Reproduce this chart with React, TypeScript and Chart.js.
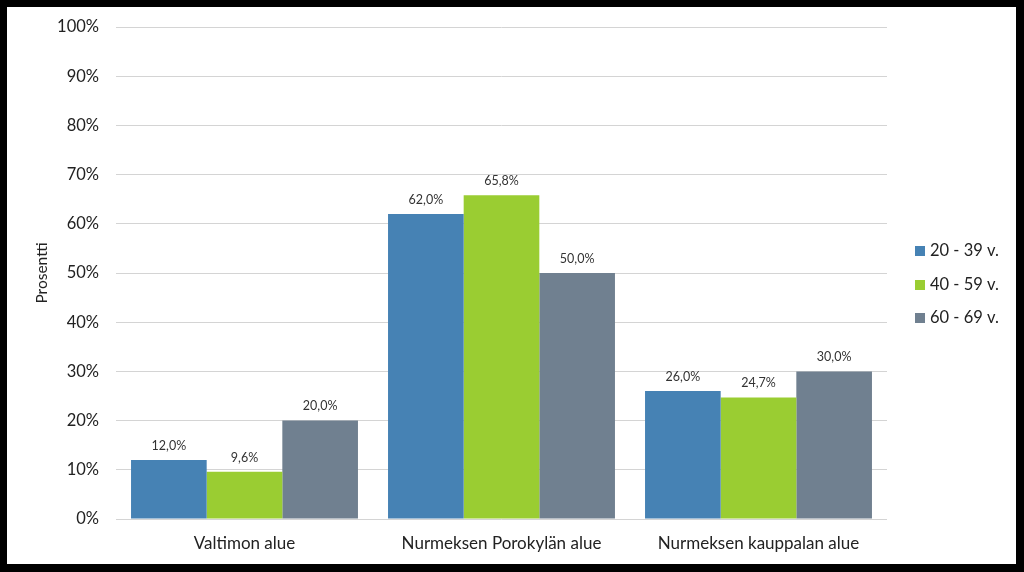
import React, { useEffect, useRef } from "react";
import { Chart, registerables } from "chart.js";

Chart.register(...registerables);

const categories = ["Valtimon alue", "Nurmeksen Porokylän alue", "Nurmeksen kauppalan alue"];
const seriesNames = ["20 - 39 v.", "40 - 59 v.", "60 - 69 v."];
const values2039 = [12.0, 62.0, 26.0];
const values4059 = [9.6, 65.8, 24.7];
const values6069 = [20.0, 50.0, 30.0];
const seriesColors = ["#4682B4", "#9ACD32", "#708090"];
const yTicks = [0, 10, 20, 30, 40, 50, 60, 70, 80, 90, 100];
const yTitle = "Prosentti";

const FONT = "Lato, 'Liberation Sans', sans-serif";

const framePlugin = {
  id: "frame",
  beforeDraw(chart: any) {
    const { ctx, width, height } = chart;
    ctx.save();
    ctx.fillStyle = "#000";
    ctx.fillRect(0, 0, width, height);
    ctx.fillStyle = "#fff";
    ctx.fillRect(7, 7, width - 7 - 8, height - 7 - 8);
    ctx.restore();
  },
};

const labelPlugin = {
  id: "valueLabels",
  afterDatasetsDraw(chart: any) {
    const { ctx } = chart;
    ctx.save();
    ctx.font = `12.5px ${FONT}`;
    ctx.fillStyle = "#333";
    ctx.textAlign = "center";
    ctx.textBaseline = "bottom";
    chart.data.datasets.forEach((ds: any, i: number) => {
      const meta = chart.getDatasetMeta(i);
      meta.data.forEach((bar: any, j: number) => {
        const v = ds.data[j] as number;
        ctx.fillText(v.toFixed(1).replace(".", ",") + "%", bar.x, bar.y - 8);
      });
    });
    ctx.restore();
  },
};

const legendPlugin = {
  id: "customLegend",
  afterDraw(chart: any) {
    const { ctx } = chart;
    ctx.save();
    ctx.font = `16.5px ${FONT}`;
    ctx.textBaseline = "middle";
    ctx.textAlign = "left";
    const x = 915;
    const ys = [251, 285, 318];
    chart.data.datasets.forEach((ds: any, i: number) => {
      ctx.fillStyle = ds.backgroundColor;
      ctx.fillRect(x, ys[i] - 5, 10, 10);
      ctx.fillStyle = "#222";
      ctx.fillText(ds.label, x + 15, ys[i]);
    });
    ctx.restore();
  },
};

export default function App() {
  const ref = useRef<HTMLCanvasElement>(null);
  useEffect(() => {
    if (!ref.current) return;
    const chart = new Chart(ref.current, {
      type: "bar",
      data: {
        labels: categories,
        datasets: [
          { label: seriesNames[0], data: values2039, backgroundColor: seriesColors[0] },
          { label: seriesNames[1], data: values4059, backgroundColor: seriesColors[1] },
          { label: seriesNames[2], data: values6069, backgroundColor: seriesColors[2] },
        ],
      },
      options: {
        responsive: false,
        animation: false,
        devicePixelRatio: 1,
        layout: { padding: { left: 0, right: 137, top: 27, bottom: 0 } },
        datasets: { bar: { categoryPercentage: 0.883, barPercentage: 1 } },
        plugins: { legend: { display: false }, tooltip: { enabled: false } },
        scales: {
          x: {
            grid: { display: false, drawTicks: false },
            border: { display: false },
            ticks: { font: { size: 17, family: FONT }, color: "#222", padding: 14 },
            afterFit: (s: any) => { s.height = 53; },
          },
          y: {
            min: 0,
            max: 100,
            afterBuildTicks: (s: any) => { s.ticks = yTicks.map((v) => ({ value: v })); },
            grid: { color: "#d4d4d4", drawTicks: false, lineWidth: 1 },
            border: { display: false },
            ticks: {
              font: { size: 16.5, family: FONT },
              color: "#222",
              padding: 17,
              callback: (v: any) => v + "%",
            },
            title: {
              display: true,
              text: yTitle,
              font: { size: 15.5, family: FONT },
              color: "#222",
              padding: { top: 33, bottom: 0 },
            },
            afterFit: (s: any) => { s.width = 116; },
          },
        },
      },
      plugins: [framePlugin, labelPlugin, legendPlugin],
    });
    return () => chart.destroy();
  }, []);
  return (
    <div style={{ position: "fixed", left: 0, top: 0, width: 1024, height: 572 }}>
      <canvas ref={ref} width={1024} height={572} style={{ display: "block" }} />
    </div>
  );
}
